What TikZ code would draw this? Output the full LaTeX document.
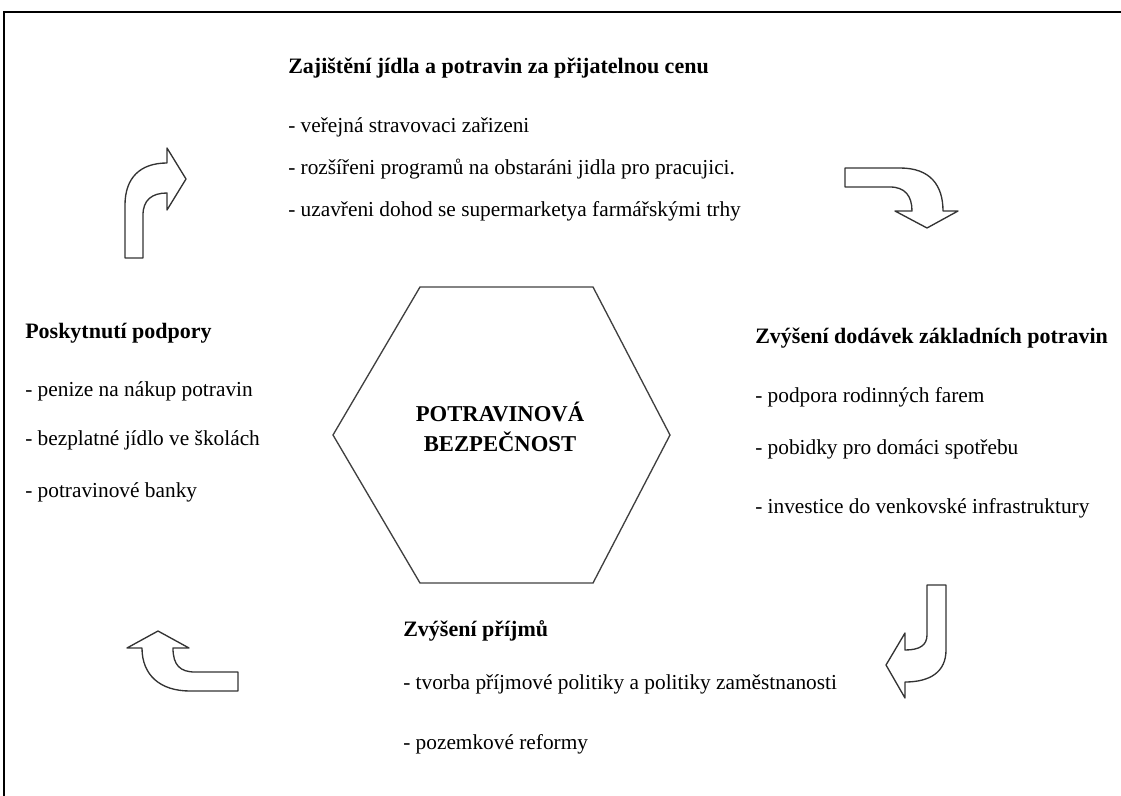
\documentclass[tikz,border=0pt]{standalone}
\usepackage{fontspec}
\setmainfont{Liberation Serif}
\begin{document}
\begin{tikzpicture}[x=0.75pt,y=-0.75pt,
  head/.style={anchor=mid west, inner sep=0pt, font=\fontsize{16.5}{19}\selectfont\bfseries},
  item/.style={anchor=mid west, inner sep=0pt, font=\fontsize{16}{19}\selectfont},
  blockarrow/.style={draw=black!80, line width=1pt, fill=white, line join=round},
  hexline/.style={draw=black!75, line width=1pt}]
\useasboundingbox (0,0) rectangle (1121,796);
\draw[line width=1.5pt] (4,796) -- (4,12) -- (1121,12);

% hexagon
\coordinate (h1) at (420,287);
\coordinate (h2) at (593,287);
\coordinate (h3) at (670,435);
\coordinate (h4) at (593,583);
\coordinate (h5) at (420,583);
\coordinate (h6) at (333,435);
\draw[hexline] (h1) -- (h2) -- (h3) -- (h4) -- (h5) -- (h6) -- cycle;
\node[align=center, inner sep=0pt, font=\fontsize{17}{22.5}\selectfont\bfseries] (center) at (500,427) {POTRAVINOVÁ\\BEZPEČNOST};

% top block
\node[head] (th) at (288,70) {Zajištění jídla a potravin za přijatelnou cenu};
\node[item] (t1) at (288,129) {- veřejná stravovaci zařizeni};
\node[item] (t2) at (288,171) {- rozšířeni programů na obstaráni jidla pro pracujici.};
\node[item] (t3) at (288,213) {- uzavřeni dohod se supermarketya farmářskými trhy};

% left block
\node[head] (lh) at (25,335) {Poskytnutí podpory};
\node[item] (l1) at (25,393) {- penize na nákup potravin};
\node[item] (l2) at (25,442) {- bezplatné jídlo ve školách};
\node[item] (l3) at (25,494) {- potravinové banky};

% right block
\node[head] (rh) at (755,340) {Zvýšení dodávek základních potravin};
\node[item] (r1) at (755,399) {- podpora rodinných farem};
\node[item] (r2) at (755,451) {- pobidky pro domáci spotřebu};
\node[item] (r3) at (755,510) {- investice do venkovské infrastruktury};

% bottom block
\node[head] (bh) at (403,633) {Zvýšení příjmů};
\node[item] (b1) at (403,686) {- tvorba příjmové politiky a politiky zaměstnanosti};
\node[item] (b2) at (403,746) {- pozemkové reformy};

% block arrows
\path[blockarrow] (125,258) -- (125,205) .. controls (125,178) and (140,163) .. (167,163)
  -- (167,148) -- (186,179) -- (167,210) -- (167,193)
  .. controls (152,193) and (143,200) .. (143,215) -- (143,258) -- cycle;
\path[blockarrow] (845,168) -- (900,168) .. controls (930,168) and (943,185) .. (943,211)
  -- (958,211) -- (927,228) -- (895,211) -- (912,211)
  .. controls (912,196) and (905,187) .. (890,187) -- (845,187) -- cycle;
\path[blockarrow] (927,585) -- (946,585) -- (946,650) .. controls (946,672) and (930,682) .. (905,682)
  -- (905,698) -- (886,665) -- (905,633) -- (905,650)
  .. controls (920,650) and (927,645) .. (927,635) -- cycle;
\path[blockarrow] (238,672) -- (238,691) -- (190,691) .. controls (160,691) and (142,675) .. (142,648)
  -- (127,648) -- (158,631) -- (189,648) -- (173,648)
  .. controls (173,665) and (180,672) .. (195,672) -- cycle;
\end{tikzpicture}
\end{document}
